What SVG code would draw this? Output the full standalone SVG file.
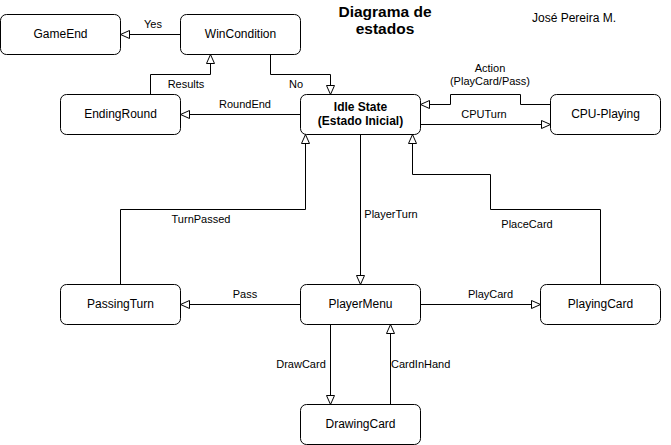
<svg xmlns="http://www.w3.org/2000/svg" width="671" height="445" viewBox="0 0 671 445">
<style>
.n rect{fill:#fff;stroke:#000;stroke-width:1}
.n text{font-family:"Liberation Sans",Arial,sans-serif;font-size:12px;fill:#000;text-anchor:middle}
.e path{fill:none;stroke:#000;stroke-width:1;marker-end:url(#arr)}
.e text{font-family:"Liberation Sans",Arial,sans-serif;font-size:11px;fill:#000;text-anchor:middle}
.t{font-family:"Liberation Sans",Arial,sans-serif;fill:#000}
</style>
<defs>
<marker id="arr" markerUnits="userSpaceOnUse" viewBox="0 0 11 10" markerWidth="11" markerHeight="10" refX="10" refY="5" orient="auto">
<path d="M1,1 L10,5 L1,9 Z" fill="#fff" stroke="#000" stroke-width="1"/>
</marker>
</defs>
<rect width="671" height="445" fill="#fff"/>
<g id="title">
<text class="t" x="385" y="17" font-size="15.5" font-weight="bold" text-anchor="middle">Diagrama de</text>
<text class="t" x="385" y="34" font-size="15.5" font-weight="bold" text-anchor="middle">estados</text>
</g>
<g id="author"><text class="t" x="574" y="22" font-size="12" text-anchor="middle">José Pereira M.</text></g>
<g class="e" id="connectors">
<path d="M180.5,34.5 H120.5"/>
<text x="153" y="28">Yes</text>
<path d="M150.5,94.5 V74.5 H210.5 V54.5"/>
<text x="186" y="87.5">Results</text>
<path d="M270.5,54.5 V74.5 H330.5 V94.5"/>
<text x="296" y="87.5">No</text>
<path d="M300.5,114.5 H180.5"/>
<text x="245" y="107.5">RoundEnd</text>
<path d="M550.5,104.5 H520.5 V94.5 H450.5 V104.5 H420.5"/>
<text x="490" y="71.5">Action</text>
<text x="490" y="85">(PlayCard/Pass)</text>
<path d="M420.5,124.5 H550.5"/>
<text x="484" y="117.5">CPUTurn</text>
<path d="M360.5,134.5 V284.5"/>
<text x="391" y="218">PlayerTurn</text>
<path d="M120.5,284.5 V209.5 H305.5 V134.5"/>
<text x="201" y="223">TurnPassed</text>
<path d="M600.5,284.5 V209.5 H490.5 V174.5 H412.5 V134.5"/>
<text x="527" y="228">PlaceCard</text>
<path d="M300.5,304.5 H180.5"/>
<text x="245" y="298">Pass</text>
<path d="M420.5,304.5 H540.5"/>
<text x="490.5" y="298">PlayCard</text>
<path d="M330.5,324.5 V404.5"/>
<text x="301" y="368">DrawCard</text>
<path d="M390.5,404.5 V324.5"/>
<text x="391" y="368" text-anchor="start" style="text-anchor:start">CardInHand</text>
</g>
<g class="n" id="GameEnd"><rect x="0.5" y="14.5" width="120" height="40" rx="6"/><text x="60.5" y="38">GameEnd</text></g>
<g class="n" id="WinCondition"><rect x="180.5" y="14.5" width="120" height="40" rx="6"/><text x="240.5" y="38">WinCondition</text></g>
<g class="n" id="EndingRound"><rect x="60.5" y="94.5" width="120" height="40" rx="6"/><text x="120.5" y="118">EndingRound</text></g>
<g class="n" id="IdleState"><rect x="300.5" y="94.5" width="120" height="40" rx="6"/><text x="360.5" y="110.5" font-weight="bold">Idle State</text><text x="360.5" y="125" font-weight="bold">(Estado Inicial)</text></g>
<g class="n" id="CPU-Playing"><rect x="550.5" y="94.5" width="110" height="40" rx="6"/><text x="605.5" y="118">CPU-Playing</text></g>
<g class="n" id="PassingTurn"><rect x="60.5" y="284.5" width="120" height="40" rx="6"/><text x="120.5" y="308">PassingTurn</text></g>
<g class="n" id="PlayerMenu"><rect x="300.5" y="284.5" width="120" height="40" rx="6"/><text x="360.5" y="308">PlayerMenu</text></g>
<g class="n" id="PlayingCard"><rect x="540.5" y="284.5" width="120" height="40" rx="6"/><text x="600.5" y="308">PlayingCard</text></g>
<g class="n" id="DrawingCard"><rect x="300.5" y="404.5" width="120" height="40" rx="6"/><text x="360.5" y="428">DrawingCard</text></g>
</svg>
